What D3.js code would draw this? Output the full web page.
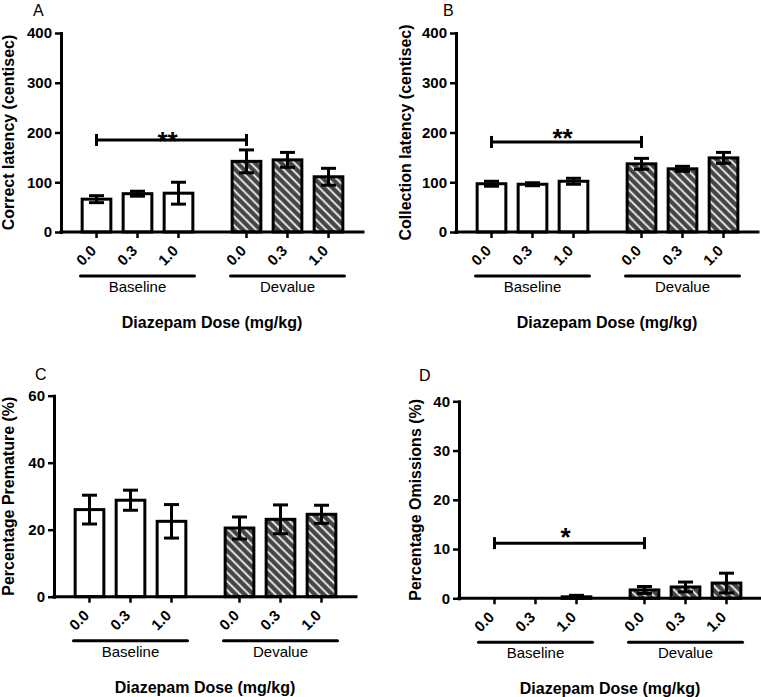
<!DOCTYPE html>
<html><head><meta charset="utf-8">
<script src="https://cdn.jsdelivr.net/npm/d3@7"></script>
<style>body{margin:0;background:#fff}svg{display:block}text{font-family:"Liberation Sans",Arial,sans-serif}</style>
</head><body><svg id="c" width="761" height="697"></svg>
<script>
// ---------- data ----------
const groups = ["Baseline", "Devalue"];
const doses = ["0.0", "0.3", "1.0"];
const correctMean = [66, 77, 78, 142, 145, 111];
const correctSem = [7, 5, 22, 23, 15, 17];
const collectionMean = [97, 96, 102, 137, 127, 149];
const collectionSem = [5, 3, 6, 11, 5, 11];
const prematureMean = [26, 28.8, 22.5, 20.5, 23.1, 24.6];
const prematureSem = [4.3, 3, 5, 3.3, 4.3, 2.7];
const omissionMean = [0, 0, 0.3, 1.7, 2.3, 3.1];
const omissionSem = [0, 0, 0.3, 0.7, 1.0, 2.0];
const yTicksLatency = [0, 100, 200, 300, 400];
const yTicksPremature = [0, 20, 40, 60];
const yTicksOmission = [0, 10, 20, 30, 40];
const sigA = {from: 0, to: 3, value: 185, label: "**"};
const sigB = {from: 0, to: 3, value: 181, label: "**"};
const sigD = {from: 0, to: 3, value: 11.2, label: "*"};
const xTitle = "Diazepam Dose (mg/kg)";

// ---------- layout ----------
const panels = [
  {letter: "A", lx: 33, ly: 16, x0: 61, y0: 232, h: 199, ticks: yTicksLatency, mean: correctMean, sem: correctSem,
   title: "Correct latency (centisec)", tx: 9, sig: sigA, starGap: 5},
  {letter: "B", lx: 443, ly: 16, x0: 456, y0: 232, h: 199, ticks: yTicksLatency, mean: collectionMean, sem: collectionSem,
   title: "Collection latency (centisec)", tx: 406, sig: sigB, starGap: 10},
  {letter: "C", lx: 35, ly: 380, x0: 54, y0: 596.7, h: 201, ticks: yTicksPremature, mean: prematureMean, sem: prematureSem,
   title: "Percentage Premature (%)", tx: 9, sig: null},
  {letter: "D", lx: 419, ly: 381, x0: 459, y0: 598.3, h: 197, ticks: yTicksOmission, mean: omissionMean, sem: omissionSem,
   title: "Percentage Omissions (%)", tx: 416, sig: sigD, starGap: 12}
];
const axisLen = 302;

const svg = d3.select("#c");
const defs = svg.append("defs");
const pat = defs.append("pattern").attr("id", "hatch").attr("patternUnits", "userSpaceOnUse")
  .attr("width", 6.2).attr("height", 6.2).attr("patternTransform", "rotate(45)");
pat.append("rect").attr("width", 6.2).attr("height", 6.2).attr("fill", "#454545");
pat.append("line").attr("x1", 0).attr("x2", 6.2).attr("y1", 3.1).attr("y2", 3.1)
  .attr("stroke", "#fff").attr("stroke-width", 1.7);

const outer = d3.scaleBand().domain(groups).range([15, 288]).paddingInner(0.18);
const inner = d3.scaleBand().domain(doses).range([0, outer.bandwidth()]).paddingInner(0.3).paddingOuter(0.15);

panels.forEach(p => {
  const g = svg.append("g").attr("transform", `translate(${p.x0},${p.y0})`);
  const y = d3.scaleLinear().domain([0, d3.max(p.ticks)]).range([0, -p.h]);
  const rows = [];
  groups.forEach((gr, gi) => doses.forEach((d, di) => {
    const i = gi * 3 + di;
    rows.push({gr, d, i, m: p.mean[i], s: p.sem[i], cx: outer(gr) + inner(d) + inner.bandwidth() / 2});
  }));

  // bars
  g.selectAll("rect.bar").data(rows).join("rect").attr("class", "bar")
    .attr("x", r => r.cx - inner.bandwidth() / 2).attr("width", inner.bandwidth())
    .attr("y", r => y(r.m)).attr("height", r => y(0) - y(r.m))
    .attr("fill", r => r.gr === "Baseline" ? "#fff" : "url(#hatch)")
    .attr("stroke", "#000").attr("stroke-width", 3)
    .style("display", r => r.m === 0 ? "none" : null);

  // error bars
  const eb = g.selectAll("g.err").data(rows.filter(r => r.s > 0)).join("g").attr("class", "err")
    .attr("stroke", "#000").attr("stroke-width", 3);
  eb.append("line").attr("x1", r => r.cx).attr("x2", r => r.cx).attr("y1", r => y(r.m - r.s)).attr("y2", r => y(r.m + r.s));
  eb.append("line").attr("x1", r => r.cx - 7.5).attr("x2", r => r.cx + 7.5).attr("y1", r => y(r.m + r.s)).attr("y2", r => y(r.m + r.s));
  eb.append("line").attr("x1", r => r.cx - 7.5).attr("x2", r => r.cx + 7.5).attr("y1", r => y(r.m - r.s)).attr("y2", r => y(r.m - r.s));

  // y axis
  const ya = g.append("g").call(d3.axisLeft(y).tickValues(p.ticks).tickFormat(d3.format("d")).tickSize(6).tickSizeOuter(0).tickPadding(3));
  ya.select(".domain").attr("stroke-width", 3).attr("stroke-linecap", "square");
  ya.selectAll(".tick line").attr("stroke-width", 2.5);
  ya.selectAll("text").attr("font-size", 15).attr("font-weight", "bold").attr("fill", "#000")
    .style("font-family", "'Liberation Sans',Arial,sans-serif");

  // x axis line
  g.append("line").attr("x1", 0).attr("x2", axisLen).attr("y1", 0).attr("y2", 0)
    .attr("stroke", "#000").attr("stroke-width", 3).attr("stroke-linecap", "square");

  groups.forEach(gr => {
    const sc = inner.copy().range([outer(gr), outer(gr) + outer.bandwidth()]);
    const xa = g.append("g").call(d3.axisBottom(sc).tickSize(6).tickSizeOuter(0));
    xa.select(".domain").remove();
    xa.selectAll(".tick line").attr("stroke-width", 2.5);
    xa.selectAll(".tick text").attr("font-size", 15).attr("font-weight", "bold").attr("fill", "#000")
      .style("font-family", "'Liberation Sans',Arial,sans-serif")
      .attr("text-anchor", "end").attr("x", -3).attr("y", 16).attr("dy", "0.35em")
      .attr("transform", "rotate(-45,-3,16)");
    const c = outer(gr) + outer.bandwidth() / 2;
    g.append("line").attr("x1", c - 57).attr("x2", c + 57).attr("y1", 44).attr("y2", 44)
      .attr("stroke", "#000").attr("stroke-width", 3).attr("stroke-linecap", "round");
    g.append("text").attr("x", c).attr("y", 60).attr("text-anchor", "middle")
      .attr("font-size", 15).text(gr);
  });

  g.append("text").attr("x", axisLen / 2).attr("y", 96).attr("text-anchor", "middle")
    .attr("font-size", 16).attr("font-weight", "bold").text(xTitle);

  // y title
  svg.append("text").attr("transform", `translate(${p.tx + 5},${p.y0 - p.h / 2}) rotate(-90)`)
    .attr("text-anchor", "middle").attr("font-size", 16).attr("font-weight", "bold").text(p.title);

  // letter
  svg.append("text").attr("x", p.lx).attr("y", p.ly).attr("font-size", 16).text(p.letter);

  // significance
  if (p.sig) {
    const a = rows[p.sig.from].cx, b = rows[p.sig.to].cx, sy = y(p.sig.value);
    const sg = g.append("g").attr("stroke", "#000").attr("stroke-width", 3);
    sg.append("line").attr("x1", a).attr("x2", b).attr("y1", sy).attr("y2", sy);
    sg.append("line").attr("x1", a).attr("x2", a).attr("y1", sy - 6).attr("y2", sy + 6);
    sg.append("line").attr("x1", b).attr("x2", b).attr("y1", sy - 6).attr("y2", sy + 6);
    g.append("text").attr("x", (a + b) / 2 - 4).attr("y", sy - p.starGap + 15).attr("text-anchor", "middle")
      .attr("font-size", 26).attr("font-weight", "bold").text(p.sig.label);
  }
});
</script></body></html>
